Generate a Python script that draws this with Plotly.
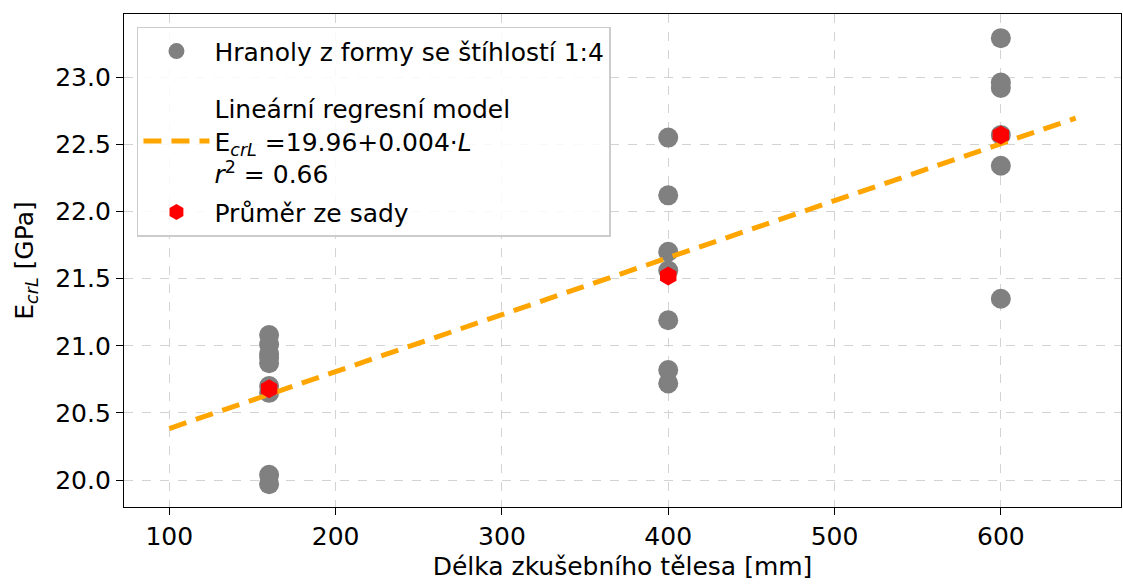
import plotly.graph_objects as go

lengths = [160, 400, 600]
vals_160 = [21.08, 21.01, 20.94, 20.91, 20.87, 20.70, 20.65, 20.04, 19.97]
vals_400 = [22.55, 22.12, 21.70, 21.56, 21.19, 20.82, 20.72]
vals_600 = [23.29, 22.96, 22.92, 22.57, 22.34, 21.35]
means = [20.68, 21.52, 22.57]
reg_x = [100, 645]
intercept = 19.96
slope = 0.00424

xs = [160] * len(vals_160) + [400] * len(vals_400) + [600] * len(vals_600)
ys = vals_160 + vals_400 + vals_600
reg_y = [intercept + slope * x for x in reg_x]

fig = go.Figure()
fig.add_trace(go.Scatter(
    x=xs, y=ys, mode="markers", legendgroup="a",
    marker=dict(color="#808080", size=20, line=dict(width=0)),
    name="Hranoly z formy se štíhlostí 1:4"))
fig.add_trace(go.Scatter(
    x=reg_x, y=reg_y, mode="lines", legendgroup="b",
    legendgrouptitle=dict(text=" ", font=dict(size=10)),
    line=dict(color="#FFA500", width=5, dash="18px,10px"),
    name="Lineární regresní model<br>E<sub><i>crL</i></sub> =19.96+0.004·<i>L</i><br><i>r</i><sup>2</sup> = 0.66"))
fig.add_trace(go.Scatter(
    x=lengths, y=means, mode="markers", legendgroup="c",
    marker=dict(color="#FF0000", size=19, symbol="hexagon", line=dict(width=0)),
    name="Průměr ze sady"))

axis_common = dict(
    showline=True, linecolor="black", linewidth=1.2, mirror=True,
    ticks="outside", ticklen=7, tickcolor="black",
    showgrid=True, gridcolor="#d3d3d3", griddash="dash", gridwidth=1,
    zeroline=False,
    tickfont=dict(size=25, color="black", family="DejaVu Sans"),
)

fig.update_layout(
    width=1123, height=585,
    margin=dict(l=124, r=2, t=14, b=78),
    plot_bgcolor="white", paper_bgcolor="white",
    font=dict(family="DejaVu Sans", color="black"),
    xaxis=dict(range=[72.75, 672.25], tickvals=[100, 200, 300, 400, 500, 600],
               title=dict(text="Délka zkušebního tělesa [mm]", font=dict(size=25), standoff=7),
               **axis_common),
    yaxis=dict(range=[19.80, 23.47], tickvals=[20.0, 20.5, 21.0, 21.5, 22.0, 22.5, 23.0],
               tickformat=".1f",
               title=dict(text="E<sub><i>crL</i></sub> [GPa]", font=dict(size=25), standoff=14),
               **axis_common),
    legend=dict(x=0.013, y=0.974, xanchor="left", yanchor="top",
                bgcolor="rgba(255,255,255,0.85)", bordercolor="#cccccc", borderwidth=1.5,
                font=dict(size=25, color="black"), itemwidth=66,
                traceorder="grouped", tracegroupgap=3),
    showlegend=True,
)

fig.write_html("out.html", config={"displayModeBar": False},
               post_script="document.body.style.margin='0';document.body.style.overflow='hidden';")
